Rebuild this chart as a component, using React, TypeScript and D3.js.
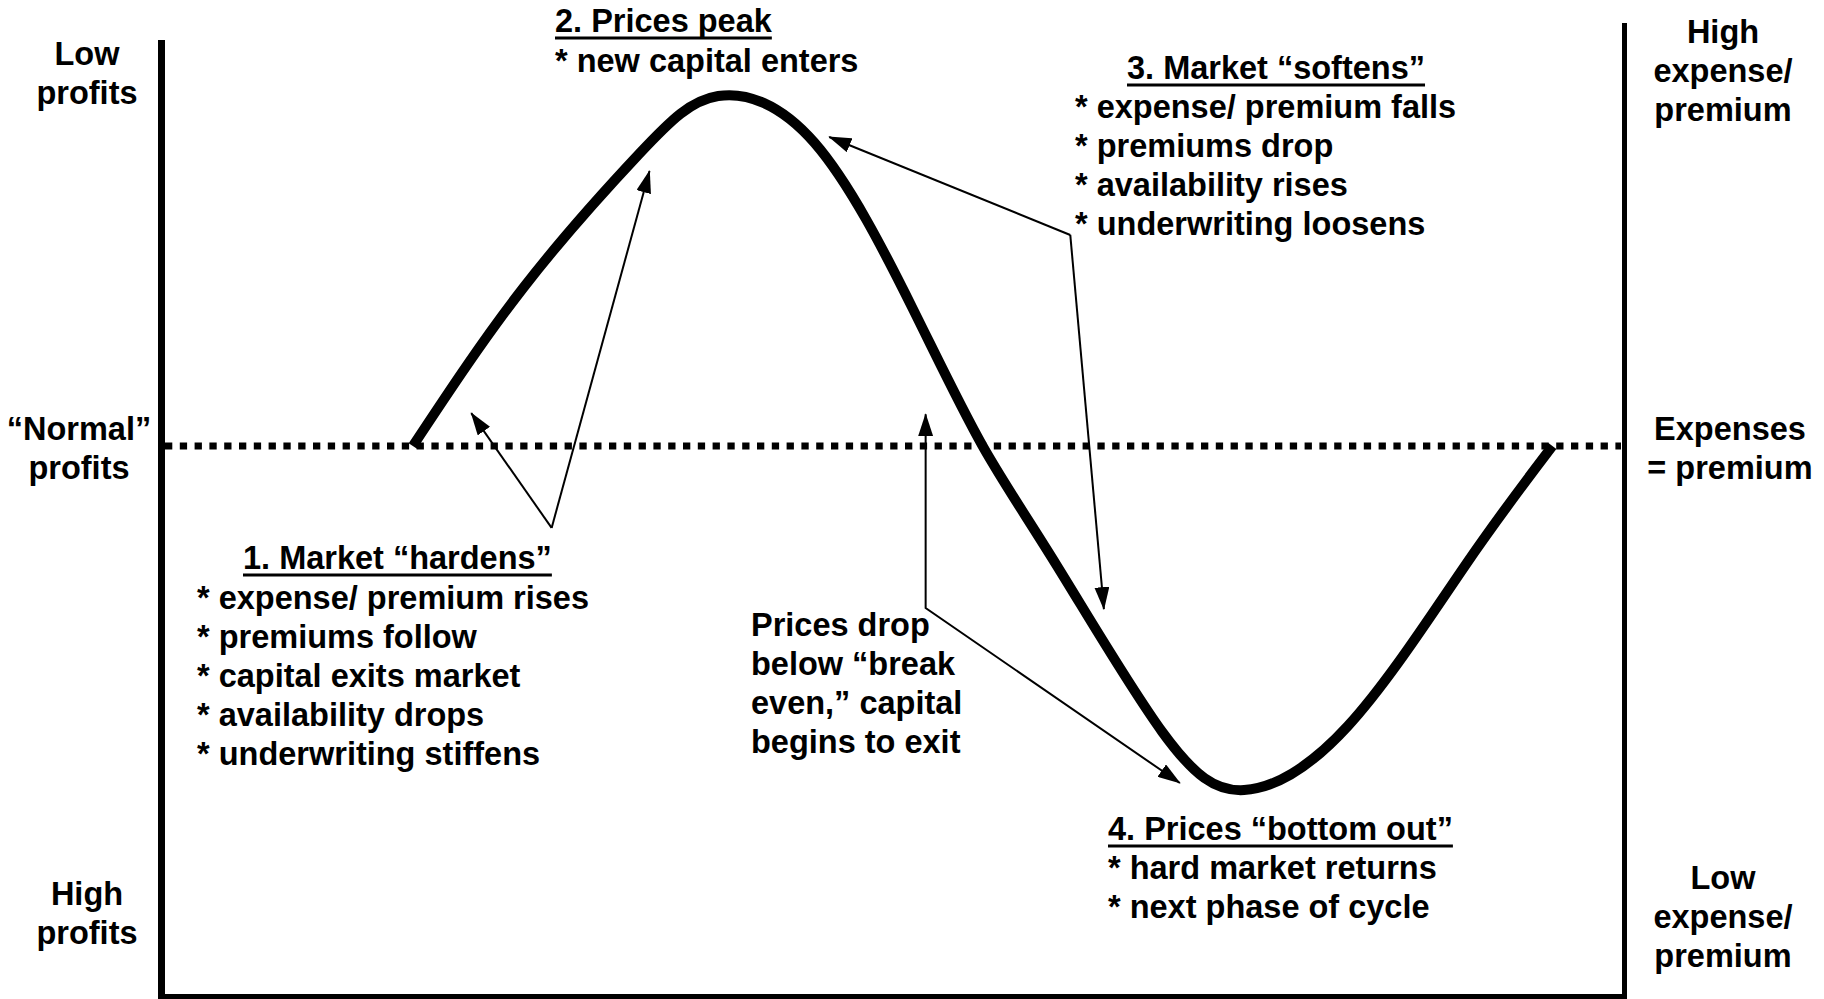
import React, { useEffect, useRef } from 'react';
import * as d3 from 'd3';

const W = 1824;
const H = 999;

// Underwriting cycle curve: phase across the frame (0-100) vs cycle level (+100 = peak expense/premium)
const cycleX = [17.1, 24.7, 32.6, 38.0, 44.6, 51.3, 56.1, 61.2, 68.4, 74.0, 81.1, 89.1, 95.1];
const cycleY = [0, 45.4, 83.5, 100, 86.6, 39.4, 0, -34.3, -81.7, -98.3, -80, -34.3, 0];

// Axis labels
const leftLabels = [["Low", "profits"], ["\u201CNormal\u201D", "profits"], ["High", "profits"]];
const rightLabels = [["High", "expense/", "premium"], ["Expenses", "= premium"], ["Low", "expense/", "premium"]];

// Annotation texts
const blockTitles = ["1. Market \u201Chardens\u201D", "2. Prices peak", "3. Market \u201Csoftens\u201D", "", "4. Prices \u201Cbottom out\u201D"];
const blockLines = [
  ["* expense/ premium rises", "* premiums follow", "* capital exits market", "* availability drops", "* underwriting stiffens"],
  ["* new capital enters"],
  ["* expense/ premium falls", "* premiums drop", "* availability rises", "* underwriting loosens"],
  ["Prices drop", "below \u201Cbreak", "even,\u201D capital", "begins to exit"],
  ["* hard market returns", "* next phase of cycle"],
];

// Annotation arrows in data coordinates
const arrow1From = [26.6, -23.4];
const arrow1Tips = [[21.1, 9.4], [33.3, 78.6]];
const arrow3From = [62.1, 60.3];
const arrow3Tips = [[45.6, 88.3], [64.4, -46.6]];
const arrow2Path = [[52.2, 9.1], [52.2, -46.3], [69.6, -96.3]];

// Layout (pixels)
const leftLabelLayout = [{ cx: 87, y: 65 }, { cx: 79, y: 440 }, { cx: 87, y: 905 }];
const rightLabelLayout = [{ cx: 1723, y: 43 }, { cx: 1730, y: 440 }, { cx: 1723, y: 889 }];
const blockLayout = [
  { tx: 243, ty: 569, lx: 197, ly: 608.5 },
  { tx: 555, ty: 32, lx: 555, ly: 71.5 },
  { tx: 1127, ty: 79, lx: 1075, ly: 117.5 },
  { tx: 0, ty: 0, lx: 751, ly: 636 },
  { tx: 1108, ty: 840, lx: 1108, ly: 879 },
];
const LINE_H = 39;
const LABEL_H = 39;
const FONT_SIZE = 32.5;

export default function App() {
  const ref = useRef<SVGSVGElement>(null);

  useEffect(() => {
    const svg = d3.select(ref.current);
    svg.selectAll('*').remove();
    const font = "'Liberation Sans', Arial, Helvetica, sans-serif";

    const x = d3.scaleLinear().domain([0, 100]).range([163, 1624]);
    const y = d3.scaleLinear().domain([-100, 100]).range([796, 96]);

    const defs = svg.append('defs');
    defs.append('marker')
      .attr('id', 'ah')
      .attr('viewBox', '0 0 23 15')
      .attr('refX', 22)
      .attr('refY', 7.5)
      .attr('markerWidth', 23)
      .attr('markerHeight', 15)
      .attr('markerUnits', 'userSpaceOnUse')
      .attr('orient', 'auto-start-reverse')
      .append('path')
      .attr('d', 'M0,0 L23,7.5 L0,15 Z')
      .attr('fill', '#000');

    // dotted "normal" line
    svg.append('line')
      .attr('x1', 165).attr('x2', 1621)
      .attr('y1', y(0)).attr('y2', y(0))
      .attr('stroke', '#000').attr('stroke-width', 7)
      .attr('stroke-dasharray', '7.3 7.5');

    // frame
    svg.append('rect').attr('x', 158).attr('y', 40).attr('width', 7).attr('height', H - 40).attr('fill', '#000');
    svg.append('rect').attr('x', 158).attr('y', 994).attr('width', 1469).attr('height', 5).attr('fill', '#000');
    svg.append('rect').attr('x', 1622).attr('y', 23).attr('width', 5).attr('height', H - 23).attr('fill', '#000');

    // curve
    const pts = cycleX.map((v, i) => [v, cycleY[i]] as [number, number]);
    const line = d3.line<[number, number]>()
      .x(d => x(d[0]))
      .y(d => y(d[1]))
      .curve(d3.curveNatural);
    svg.append('path')
      .attr('d', line(pts) as string)
      .attr('fill', 'none')
      .attr('stroke', '#000')
      .attr('stroke-width', 10)
      .attr('stroke-linecap', 'butt');

    // arrows
    const straight = d3.line<number[]>().x(d => x(d[0])).y(d => y(d[1]));
    const drawArrow = (p: number[][], both: boolean) => {
      const a = svg.append('path')
        .attr('d', straight(p) as string)
        .attr('fill', 'none')
        .attr('stroke', '#000')
        .attr('stroke-width', 2)
        .attr('marker-end', 'url(#ah)');
      if (both) a.attr('marker-start', 'url(#ah)');
    };
    arrow1Tips.forEach(t => drawArrow([arrow1From, t], false));
    arrow3Tips.forEach(t => drawArrow([arrow3From, t], false));
    drawArrow(arrow2Path, true);

    const textStyle = (sel: any) => sel
      .attr('font-family', font)
      .attr('font-weight', 'bold')
      .attr('font-size', FONT_SIZE)
      .attr('fill', '#000');

    // side labels
    leftLabels.forEach((lines, i) => {
      lines.forEach((t, j) => {
        svg.append('text').call(textStyle)
          .attr('x', leftLabelLayout[i].cx)
          .attr('y', leftLabelLayout[i].y + j * LABEL_H)
          .attr('text-anchor', 'middle')
          .text(t);
      });
    });
    rightLabels.forEach((lines, i) => {
      lines.forEach((t, j) => {
        svg.append('text').call(textStyle)
          .attr('x', rightLabelLayout[i].cx)
          .attr('y', rightLabelLayout[i].y + j * LABEL_H)
          .attr('text-anchor', 'middle')
          .text(t);
      });
    });

    // annotation blocks
    blockTitles.forEach((title, i) => {
      const L = blockLayout[i];
      if (title) {
        const t = svg.append('text').call(textStyle)
          .attr('x', L.tx).attr('y', L.ty).text(title);
        const w = (t.node() as SVGTextElement).getComputedTextLength();
        svg.append('rect')
          .attr('x', L.tx).attr('y', L.ty + 4.5)
          .attr('width', w).attr('height', 3)
          .attr('fill', '#000');
      }
      blockLines[i].forEach((s, j) => {
        svg.append('text').call(textStyle)
          .attr('x', L.lx).attr('y', L.ly + j * LINE_H).text(s);
      });
    });
  }, []);

  return (
    <svg
      ref={ref}
      width={W}
      height={H}
      style={{ position: 'absolute', left: 0, top: 0, display: 'block', background: '#fff' }}
    />
  );
}
